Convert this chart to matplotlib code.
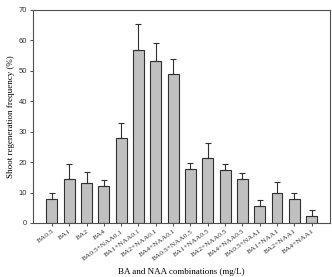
import numpy as np
import matplotlib
matplotlib.use('Agg')
import matplotlib.pyplot as plt

# treatments and shoot regeneration frequency (%)
labels = ['BA0.5', 'BA1', 'BA2', 'BA4',
          'BA0.5+NAA0.1', 'BA1+NAA0.1', 'BA2+NAA0.1', 'BA4+NAA0.1',
          'BA0.5+NAA0.5', 'BA1+NAA0.5', 'BA2+NAA0.5', 'BA4+NAA0.5',
          'BA0.5+NAA1', 'BA1+NAA1', 'BA2+NAA1', 'BA4+NAA1']
freq = [7.8, 14.5, 13.3, 12.3, 27.8, 56.7, 53.3, 49.0,
        17.8, 21.2, 17.5, 14.5, 5.6, 10.0, 7.8, 2.2]
err = [1.9, 5.0, 3.4, 1.9, 5.0, 8.8, 5.7, 5.0,
       1.9, 5.1, 1.9, 1.9, 1.9, 3.4, 1.9, 2.0]

fig = plt.figure(figsize=(3.32, 2.77), dpi=100)
ax = fig.add_axes([0.099, 0.195, 0.895, 0.769])

x = np.arange(len(labels))
ax.bar(x, freq, width=0.63, color='#c0c0c0', edgecolor='#303030', linewidth=0.8,
       yerr=[np.zeros(len(err)), err], capsize=2.5,
       error_kw=dict(ecolor='#303030', elinewidth=0.8, capthick=0.8))

ax.set_xlim(-1.1, 16.06)
ax.set_ylim(0, 70)
ax.set_yticks(range(0, 71, 10))
ax.set_xticks(x)
ax.set_xticklabels(labels, rotation=36, ha='right', rotation_mode='anchor',
                   fontsize=5.3, family='Liberation Serif')
for t in ax.get_yticklabels():
    t.set_family('Liberation Sans')
    t.set_fontsize(5.5)
ax.tick_params(axis='both', direction='out', length=2.5, width=0.6, colors='#303030', pad=1.5)
for s in ax.spines.values():
    s.set_linewidth(0.8)
    s.set_color('#505050')

ax.set_ylabel('Shoot regeneration frequency (%)', fontsize=6.5, family='Liberation Serif', labelpad=3)
ax.set_xlabel('BA and NAA combinations (mg/L)', fontsize=6.5, family='Liberation Serif', labelpad=5)

fig.savefig('out.png', dpi=100)
